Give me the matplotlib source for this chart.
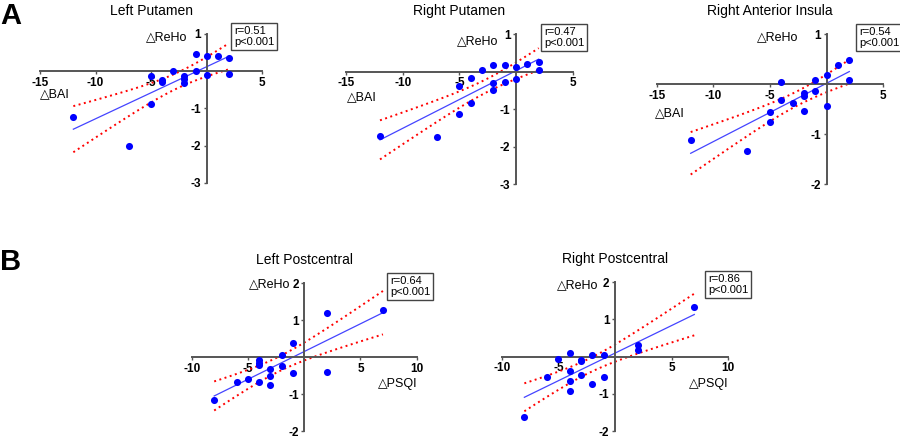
import numpy as np
import matplotlib.pyplot as plt

plt.rcParams['font.family'] = ['Liberation Sans', 'DejaVu Sans']

# Data (change in BAI / PSQI vs change in ReHo)
lp_x = [-12, -7, -5, -5, -4, -4, -3, -2, -2, -2, -1, -1, 0, 0, 1, 2, 2]
lp_y = [-1.23, -2.0, -0.12, -0.87, -0.25, -0.3, 0.0, -0.14, -0.22, -0.32, 0.45, 0.0, 0.42, -0.1, 0.42, 0.36, -0.07]

rp_x = [-12, -7, -5, -5, -4, -4, -3, -2, -2, -2, -1, -1, 0, 0, 1, 2, 2]
rp_y = [-1.70, -1.73, -0.37, -1.12, -0.17, -0.84, 0.05, 0.19, -0.29, -0.49, 0.19, -0.27, 0.12, -0.19, 0.2, 0.25, 0.06]

ri_x = [-12, -7, -5, -5, -4, -4, -3, -2, -2, -2, -1, -1, 0, 0, 1, 2, 2]
ri_y = [-1.11, -1.33, -0.56, -0.76, 0.04, -0.32, -0.37, -0.18, -0.23, -0.53, 0.09, -0.13, 0.19, -0.43, 0.39, 0.49, 0.09]

lpc_x = [-8, -6, -5, -4, -4, -4, -4, -3, -3, -3, -2, -2, -1, -1, 2, 2, 7]
lpc_y = [-1.17, -0.67, -0.59, -0.08, -0.15, -0.21, -0.67, -0.33, -0.51, -0.75, 0.05, -0.24, 0.375, -0.44, 1.2, -0.39, 1.29]

rpc_x = [-8, -6, -5, -4, -4, -4, -4, -3, -3, -3, -2, -2, -1, -1, 2, 2, 7]
rpc_y = [-1.61, -0.56, -0.07, 0.1, -0.38, -0.65, -0.93, -0.08, -0.13, -0.5, 0.04, -0.73, 0.04, -0.54, 0.32, 0.17, 1.33]

titles = ['Left Putamen', 'Right Putamen', 'Right Anterior Insula', 'Left Postcentral', 'Right Postcentral']
stats = ['r=0.51\np<0.001', 'r=0.47\np<0.001', 'r=0.54\np<0.001', 'r=0.64\np<0.001', 'r=0.86\np<0.001']

W, H = 900, 437
fig = plt.figure(figsize=(9, 4.37), dpi=100)


def add_ax(l, r, t, b):
    return fig.add_axes([l / W, 1 - b / H, (r - l) / W, (b - t) / H])


def panel(ax, x, y, xlim, ylim, xticks, yticks, title, stat, box_xy, xlab, xlab_xy, xlab_ha, ylab_xy):
    x = np.array(x, float)
    y = np.array(y, float)
    ax.set_xlim(*xlim)
    ax.set_ylim(*ylim)
    for s in ['top', 'right']:
        ax.spines[s].set_visible(False)
    for s in ['left', 'bottom']:
        ax.spines[s].set_position(('data', 0))
        ax.spines[s].set_color('#555555')
        ax.spines[s].set_linewidth(1.4)
    ax.set_xticks(xticks)
    ax.set_yticks(yticks)
    ax.set_xticklabels([str(v) for v in xticks], fontweight='bold', fontsize=8.5)
    ax.set_yticklabels([str(v) for v in yticks], fontweight='bold', fontsize=8.5)
    ax.tick_params(direction='out', length=2.5, width=1, color='#555555', pad=1.5)
    ax.patch.set_visible(False)

    # regression line and 95% confidence band
    n = len(x)
    slope, icpt = np.polyfit(x, y, 1)
    xs = np.linspace(x.min(), x.max(), 100)
    fit = slope * xs + icpt
    resid = y - (slope * x + icpt)
    se = np.sqrt(np.sum(resid ** 2) / (n - 2))
    sxx = np.sum((x - x.mean()) ** 2)
    half = 2.13 * se * np.sqrt(1 / n + (xs - x.mean()) ** 2 / sxx)
    ax.plot(xs, fit, color='#4444ff', lw=0.9, zorder=2)
    ax.plot(xs, fit + half, color='red', lw=1.4, ls=(0, (1, 1.8)), zorder=2)
    ax.plot(xs, fit - half, color='red', lw=1.4, ls=(0, (1, 1.8)), zorder=2)
    ax.scatter(x, y, s=26, color='#0000ff', zorder=3, clip_on=False, linewidths=0)

    ax.set_title(title, fontsize=10, pad=14)
    fig.text(box_xy[0] / W, 1 - box_xy[1] / H, stat, fontsize=8, va='top', ha='left',
             linespacing=1.1,
             bbox=dict(boxstyle='square,pad=0.25', fc='white', ec='#444444', lw=1))
    fig.text(xlab_xy[0] / W, 1 - xlab_xy[1] / H, xlab, fontsize=9, ha=xlab_ha, va='center')
    fig.text(ylab_xy[0] / W, 1 - ylab_xy[1] / H, '\u25b3ReHo', fontsize=9, ha='right', va='center')


ax1 = add_ax(40, 262.3, 34, 182.7)
panel(ax1, lp_x, lp_y, (-15, 5), (-3, 1), [-15, -10, -5, 5], [-3, -2, -1, 1],
      titles[0], stats[0], (234, 26), '\u25b3BAI', (40, 94), 'left', (187, 37))

ax2 = add_ax(346, 572.7, 34.3, 184.3)
panel(ax2, rp_x, rp_y, (-15, 5), (-3, 1), [-15, -10, -5, 5], [-3, -2, -1, 1],
      titles[1], stats[1], (544, 27), '\u25b3BAI', (347, 97), 'left', (498, 41))

ax3 = add_ax(656.7, 883.3, 34.3, 184.3)
panel(ax3, ri_x, ri_y, (-15, 5), (-2, 1), [-15, -10, -5, 5], [-2, -1, 1],
      titles[2], stats[2], (859, 27), '\u25b3BAI', (655, 113), 'left', (798, 37))

ax4 = add_ax(191.7, 416.7, 283.3, 431)
panel(ax4, lpc_x, lpc_y, (-10, 10), (-2, 2), [-10, -5, 5, 10], [-2, -1, 1, 2],
      titles[3], stats[3], (390, 276), '\u25b3PSQI', (417, 384), 'right', (290, 284))

ax5 = add_ax(501.7, 728.3, 282.3, 431)
panel(ax5, rpc_x, rpc_y, (-10, 10), (-2, 2), [-10, -5, 5, 10], [-2, -1, 1, 2],
      titles[4], stats[4], (708, 274), '\u25b3PSQI', (728, 384), 'right', (598, 285))

fig.text(0.0, 1 - 16 / H, 'A', fontsize=21, fontweight='bold', va='center', ha='left')
fig.text(0.0, 1 - 262 / H, 'B', fontsize=21, fontweight='bold', va='center', ha='left')

fig.savefig('out.png', dpi=100)
